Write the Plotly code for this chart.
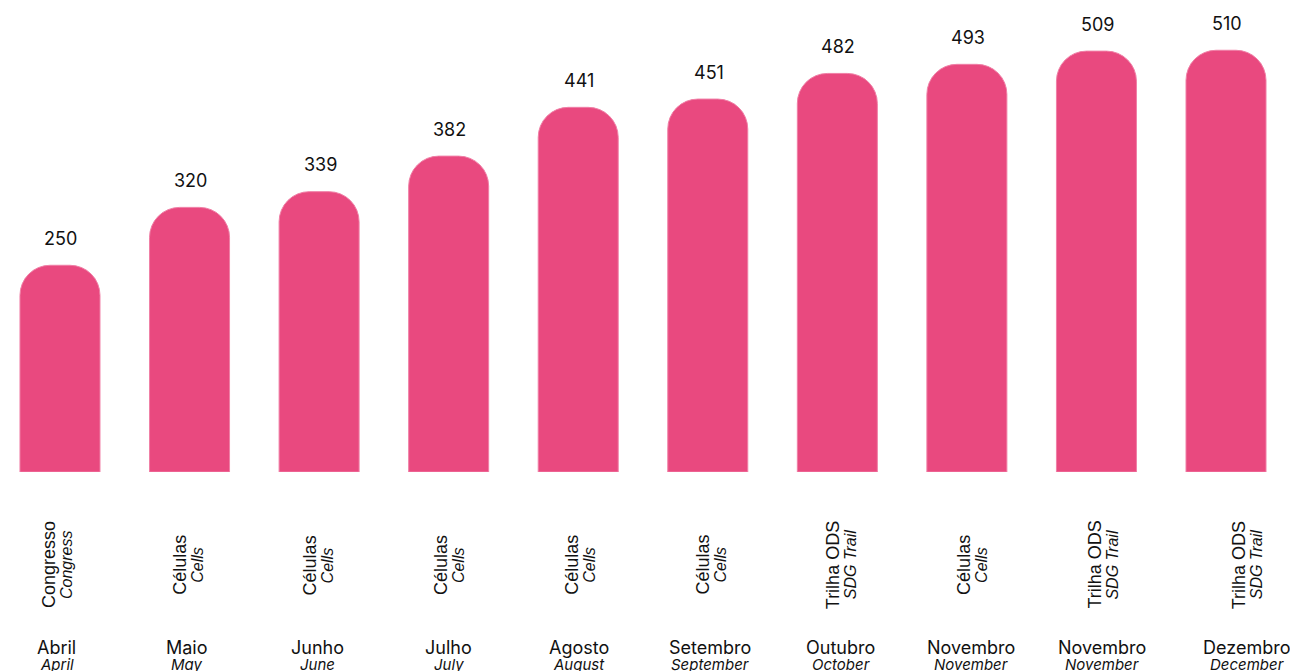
import plotly.graph_objects as go

values = [250, 320, 339, 382, 441, 451, 482, 493, 509, 510]
events_pt = ["Congresso", "Células", "Células", "Células", "Células", "Células",
             "Trilha ODS", "Células", "Trilha ODS", "Trilha ODS"]
events_en = ["Congress", "Cells", "Cells", "Cells", "Cells", "Cells",
             "SDG Trail", "Cells", "SDG Trail", "SDG Trail"]
months_pt = ["Abril", "Maio", "Junho", "Julho", "Agosto", "Setembro",
             "Outubro", "Novembro", "Novembro", "Dezembro"]
months_en = ["April", "May", "June", "July", "August", "September",
             "October", "November", "November", "December"]

xs = list(range(len(values)))

BAR = "#E9497F"
TXT = "#111111"
NUM_FONT = "Inter, Roboto, sans-serif"
ARIAL = "Liberation Sans, Arial, sans-serif"

fig = go.Figure()
fig.add_trace(go.Bar(
    x=xs, y=values, width=0.6175,
    marker=dict(color=BAR, line=dict(color="#F07FA6", width=1), cornerradius=30),
    hoverinfo="skip",
))

H_PLOT = 472  # plot area height in px (t=0)


def py(p):
    return (H_PLOT - p) / H_PLOT


ann = []
for i, v in enumerate(values):
    ann.append(dict(x=xs[i], y=v, xref="x", yref="y", text=str(v), showarrow=False,
                    yanchor="middle", yshift=27, xshift=1,
                    font=dict(family=NUM_FONT, size=18, color=TXT)))
    shift = 14 if i == len(values) - 1 else 0
    ann.append(dict(x=xs[i], y=py(565), xref="x2", yref="paper", text=events_pt[i],
                    showarrow=False, textangle=-90, xanchor="center", yanchor="middle",
                    xshift=-7.5 + shift,
                    font=dict(family=ARIAL, size=18, color=TXT)))
    ann.append(dict(x=xs[i], y=py(565), xref="x2", yref="paper", text="<i>" + events_en[i] + "</i>",
                    showarrow=False, textangle=-90, xanchor="center", yanchor="middle",
                    xshift=9.5 + shift,
                    font=dict(family=ARIAL, size=16, color=TXT)))
    ann.append(dict(x=xs[i], y=py(647), xref="x2", yref="paper", text=months_pt[i],
                    showarrow=False, xanchor="center", yanchor="middle",
                    xshift=shift,
                    font=dict(family=NUM_FONT, size=18, color=TXT)))
    ann.append(dict(x=xs[i], y=py(664), xref="x2", yref="paper", text="<i>" + months_en[i] + "</i>",
                    showarrow=False, xanchor="center", yanchor="middle",
                    xshift=shift,
                    font=dict(family=NUM_FONT, size=15, color=TXT)))

fig.update_layout(
    width=1290, height=671,
    margin=dict(l=0, r=0, t=0, b=671 - H_PLOT),
    paper_bgcolor="white", plot_bgcolor="white",
    showlegend=False,
    xaxis=dict(range=[-0.463, 9.494], visible=False, fixedrange=True),
    xaxis2=dict(range=[-0.4323, 9.4377], overlaying="x", visible=False, fixedrange=True),
    yaxis=dict(range=[0, H_PLOT / 0.8269], visible=False, fixedrange=True),
    annotations=ann,
)

fig.write_html("out.html", config={"displayModeBar": False},
               post_script="document.body.style.margin='0px';document.body.style.overflow='hidden';")
